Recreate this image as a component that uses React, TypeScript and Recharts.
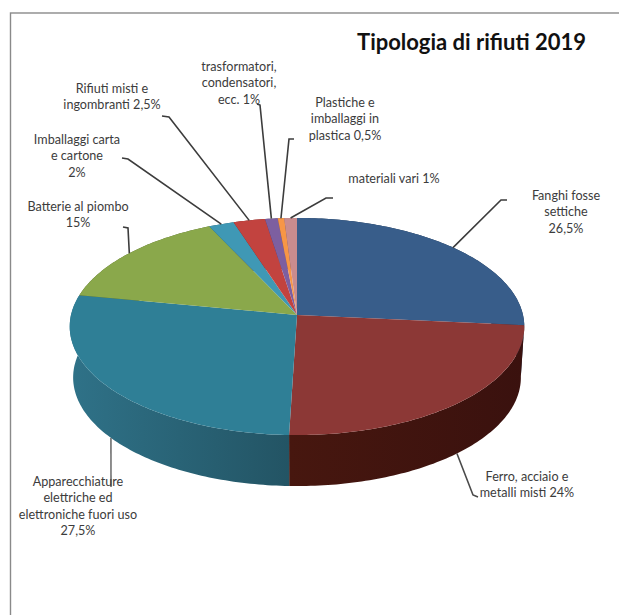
import React from 'react';
import { PieChart, Pie } from 'recharts';

const categories = [
  'Fanghi fosse settiche',
  'Ferro, acciaio e metalli misti',
  'Apparecchiature elettriche ed elettroniche fuori uso',
  'Batterie al piombo',
  'Imballaggi carta e cartone',
  'Rifiuti misti e ingombranti',
  'trasformatori, condensatori, ecc.',
  'Plastiche e imballaggi in plastica',
  'materiali vari',
];
const values = [26.5, 24, 27.5, 15, 2, 2.5, 1, 0.5, 1];
const labelTexts = [
  ['Fanghi fosse', 'settiche', '26,5%'],
  ['Ferro, acciaio e', 'metalli misti 24%'],
  ['Apparecchiature', 'elettriche ed', 'elettroniche fuori uso', '27,5%'],
  ['Batterie al piombo', '15%'],
  ['Imballaggi carta', 'e cartone', '2%'],
  ['Rifiuti misti e', 'ingombranti 2,5%'],
  ['trasformatori,', 'condensatori,', 'ecc. 1%'],
  ['Plastiche e', 'imballaggi in', 'plastica 0,5%'],
  ['materiali vari 1%'],
];
const topColors = ['#385d8a', '#8c3836', '#2f7f96', '#8aa84b', '#3f98b5', '#c2433f', '#7d5fa0', '#f79646', '#c98c8e'];
const wallColors = [
  ['#1f3550', '#1f3550'],
  ['#47170f', '#3a110e'],
  ['#2f7288', '#235464'],
  ['#4f612b', '#4f612b'],
  ['#245868', '#245868'],
  ['#702624', '#702624'],
  ['#48365c', '#48365c'],
  ['#8f5628', '#8f5628'],
  ['#745051', '#745051'],
];

// label placement: text centre x, first line centre y, then the leader's bend points
const labelLayout = [
  { x: 566, y: 196, onWall: false, stroke: '#3c3c3c', bends: [[501, 200], [507, 200]] },
  { x: 527, y: 477, onWall: true, stroke: '#4a4a4a', bends: [[473, 495], [478, 497]] },
  { x: 78, y: 482, onWall: true, stroke: '#707070', bends: [[111, 487]] },
  { x: 78, y: 207, onWall: false, stroke: '#3c3c3c', bends: [[128, 228], [123, 227]] },
  { x: 77, y: 140, onWall: false, stroke: '#3c3c3c', bends: [[128, 159], [122, 158]] },
  { x: 112, y: 89, onWall: false, stroke: '#3c3c3c', bends: [[169, 117], [162, 116]] },
  { x: 239, y: 67, onWall: false, stroke: '#3c3c3c', bends: [[260, 105], [257, 104]] },
  { x: 345, y: 103, onWall: false, stroke: '#3c3c3c', bends: [[289, 139], [294, 139]] },
  { x: 394, y: 179, onWall: false, stroke: '#3c3c3c', bends: [[326, 198], [333, 198]] },
];

const data = categories.map((name, i) => ({ name, value: values[i] }));

const SQUASH = 0.475;
const TILT = 0.106;
const DEPTH = 51;
const BOTTOM_SCALE = 0.985;
const LINE_HEIGHT = 16.4;
const FONT = 'Lato, "Open Sans", sans-serif';

// project a pie angle onto the tilted disc, with a bit of perspective
const project = (cx: number, cy: number, r: number, angle: number) => {
  const rad = (angle * Math.PI) / 180;
  const u = Math.cos(rad);
  const v = -Math.sin(rad);
  const d = 1 - TILT * v;
  return [cx + (r * u) / d, cy + (r * SQUASH * v) / d];
};

// same point on the lower rim, which is a little narrower
const dropToBottom = (p: number[], cx: number) => [cx + (p[0] - cx) * BOTTOM_SCALE, p[1] + DEPTH];

const arcPoints = (cx: number, cy: number, r: number, start: number, end: number) => {
  const steps = Math.max(2, Math.ceil(Math.abs(end - start)));
  const pts: number[][] = [];
  for (let i = 0; i <= steps; i++) {
    pts.push(project(cx, cy, r, start + ((end - start) * i) / steps));
  }
  return pts;
};

const toPath = (pts: number[][]) => 'M' + pts.map((p) => `${p[0].toFixed(2)},${p[1].toFixed(2)}`).join('L') + 'Z';

const TopSlice = (props: any) => {
  const { cx, cy, outerRadius, startAngle, endAngle, index } = props;
  const pts = [[cx, cy], ...arcPoints(cx, cy, outerRadius, startAngle, endAngle)];
  return <path d={toPath(pts)} fill={topColors[index]} />;
};

const WallSlice = (props: any) => {
  const { cx, cy, outerRadius, startAngle, endAngle, index } = props;
  const top = arcPoints(cx, cy, outerRadius, startAngle, endAngle);
  const bottom = top.map((p) => dropToBottom(p, cx)).reverse();
  const gradId = `wall-${index}`;
  return (
    <g>
      <defs>
        <linearGradient id={gradId} x1="0" y1="0" x2="1" y2="0">
          <stop offset="0%" stopColor={wallColors[index][0]} />
          <stop offset="100%" stopColor={wallColors[index][1]} />
        </linearGradient>
      </defs>
      <path d={toPath([...top, ...bottom])} fill={`url(#${gradId})`} />
    </g>
  );
};

const SliceLabel = (props: any) => {
  const { cx, cy, outerRadius, midAngle, index } = props;
  const layout = labelLayout[index];
  const start = project(cx, cy, outerRadius, midAngle);
  const from = layout.onWall ? dropToBottom(start, cx) : start;
  const line = [from, ...layout.bends].map((p) => p.join(',')).join(' ');
  return (
    <g>
      <polyline points={line} fill="none" stroke={layout.stroke} strokeWidth={1.6} />
      <text textAnchor="middle" fontFamily={FONT} fontSize={12.6} fill="#3c3c3c">
        {labelTexts[index].map((t, i) => (
          <tspan key={i} x={layout.x} y={layout.y + 4 + i * LINE_HEIGHT}>
            {t}
          </tspan>
        ))}
      </text>
    </g>
  );
};

const App = () => {
  return (
    <div style={{ position: 'absolute', left: 0, top: 0, width: 619, height: 615, background: '#fff' }}>
      <PieChart width={619} height={615} margin={{ top: 0, right: 0, bottom: 0, left: 0 }}>
        <rect x={10.5} y={13} width={800} height={800} fill="none" stroke="#8a8a8a" strokeWidth={1.4} />
        <text x={471.5} y={50} textAnchor="middle" fontFamily={FONT} fontWeight={700} fontSize={22} fill="#111">
          Tipologia di rifiuti 2019
        </text>
        <Pie
          data={data}
          dataKey="value"
          cx={297}
          cy={315}
          outerRadius={226}
          startAngle={90}
          endAngle={-270}
          stroke="none"
          shape={WallSlice}
          isAnimationActive={false}
        />
        <Pie
          data={data}
          dataKey="value"
          cx={297}
          cy={315}
          outerRadius={226}
          startAngle={90}
          endAngle={-270}
          stroke="none"
          shape={TopSlice}
          label={SliceLabel}
          labelLine={false}
          isAnimationActive={false}
        />
      </PieChart>
    </div>
  );
};

export default App;
